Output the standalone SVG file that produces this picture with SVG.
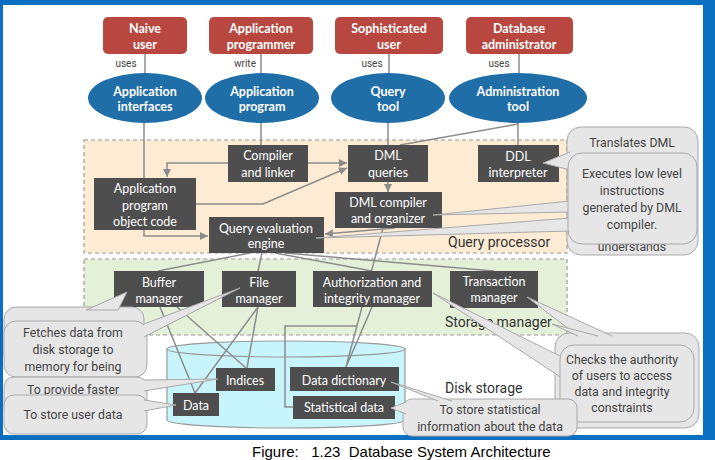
<svg xmlns="http://www.w3.org/2000/svg" width="715" height="460" viewBox="0 0 715 460">
<style>
.red{fill:#b7473f}
.ell{fill:#1f6ea8}
.dk{fill:#4e4e4e}
.wt{font-family:Lato,"Liberation Sans",sans-serif;font-size:12.5px;fill:#fff;text-anchor:middle}
.wb{font-family:Lato,"Liberation Sans",sans-serif;font-size:12.5px;font-weight:bold;fill:#fff;text-anchor:middle}
.sm{font-family:Roboto,"Liberation Sans",sans-serif;font-size:10px;fill:#444;text-anchor:middle}
.lbl{font-family:Roboto,"Liberation Sans",sans-serif;font-size:14px;fill:#333}
.ct{font-family:Roboto,"Liberation Sans",sans-serif;font-size:12.3px;fill:#444;text-anchor:middle}
.co{fill:#e6e6e6;stroke:#a9a9a9;stroke-width:1}
.ln{fill:none;stroke:#8c8c8c;stroke-width:1.5}
.dash{stroke:#9a9a9a;stroke-width:1.2;stroke-dasharray:4 3}
</style>
<defs>
<marker id="ah" viewBox="0 0 8 8" refX="8" refY="4" markerWidth="8" markerHeight="8" markerUnits="userSpaceOnUse" orient="auto">
<path d="M0,0 L8,4 L0,8 z" fill="#8c8c8c"/>
</marker>
</defs>
<rect x="0" y="0" width="715" height="440" fill="#0b6fc1"/>
<rect x="3" y="5" width="700" height="430" fill="#fff"/>
<rect x="0" y="440" width="715" height="20" fill="#fff"/>

<g id="query-processor">
<rect x="84" y="140" width="483" height="113" fill="#fdebd3" class="dash"/>
<text class="lbl" x="448" y="247">Query processor</text>
</g>
<g id="storage-manager">
<rect x="84" y="259" width="483" height="76" fill="#e5f0d9" class="dash"/>
<text class="lbl" x="445" y="327">Storage manager</text>
</g>
<g id="disk-storage">
<path d="M167,349 L167,420 A119,8 0 0 0 405,420 L405,349 Z" fill="#c8f4fc" stroke="#9a9a9a" stroke-width="1.2"/>
<ellipse cx="286" cy="349" rx="119" ry="8" fill="#c8f4fc" stroke="#9a9a9a" stroke-width="1.2"/>
<text class="lbl" x="445" y="393">Disk storage</text>
</g>

<g id="connectors">
<path class="ln" d="M145,54 V73 M261,54 V73 M389,54 V73 M519,54 V73"/>
<path class="ln" d="M144,123 V178 M261,123 V145 M388,123 V145 M518,123 V145 M518,124 L400,145"/>
<path class="ln" d="M228,163 H167 V177" marker-end="url(#ah)"/>
<path class="ln" d="M308,163 H347" marker-end="url(#ah)"/>
<path class="ln" d="M196,204 H263 L347,168" marker-end="url(#ah)"/>
<path class="ln" d="M144,230 V236 H208" marker-end="url(#ah)"/>
<path class="ln" d="M388,182 V192" marker-end="url(#ah)"/>
<path class="ln" d="M395,228 L325,234" marker-end="url(#ah)"/>
<path class="ln" d="M383,228 L346,367 M372,307 L346,367 M293,407 H285 V326 H357"/>
<path class="ln" d="M250,253 L158,271 M262,253 L258,271 M275,253 L372,271 M285,253 L494,271"/>
<path class="ln" d="M160,307 L195,393 M177,307 L246,368 M258,307 L195,393 M258,307 L247,368"/>
</g>

<g id="naive-user"><rect class="red" x="103" y="17" width="84" height="37" rx="5"/><text class="wb" x="145" y="33">Naive</text><text class="wb" x="145" y="49">user</text></g>
<g id="app-programmer"><rect class="red" x="209" y="17" width="104" height="37" rx="5"/><text class="wb" x="261" y="33">Application</text><text class="wb" x="261" y="49">programmer</text></g>
<g id="sophisticated-user"><rect class="red" x="335" y="17" width="108" height="37" rx="5"/><text class="wb" x="389" y="33">Sophisticated</text><text class="wb" x="389" y="49">user</text></g>
<g id="db-admin"><rect class="red" x="466" y="17" width="107" height="37" rx="5"/><text class="wb" x="519" y="33">Database</text><text class="wb" x="519" y="49">administrator</text></g>

<g id="edge-labels">
<text class="sm" x="126" y="67">uses</text>
<text class="sm" x="245" y="67">write</text>
<text class="sm" x="372" y="67">uses</text>
<text class="sm" x="499" y="67">uses</text>
</g>

<g id="app-interfaces"><ellipse class="ell" cx="145" cy="98" rx="57" ry="25"/><text class="wb" x="145" y="96">Application</text><text class="wb" x="145" y="111">interfaces</text></g>
<g id="app-program"><ellipse class="ell" cx="262" cy="98" rx="57" ry="25"/><text class="wb" x="262" y="96">Application</text><text class="wb" x="262" y="111">program</text></g>
<g id="query-tool"><ellipse class="ell" cx="388" cy="98" rx="57" ry="25"/><text class="wb" x="388" y="96">Query</text><text class="wb" x="388" y="111">tool</text></g>
<g id="admin-tool"><ellipse class="ell" cx="518" cy="98" rx="69" ry="25"/><text class="wb" x="518" y="96">Administration</text><text class="wb" x="518" y="111">tool</text></g>

<g id="compiler-linker"><rect class="dk" x="228" y="145" width="80" height="37"/><text class="wt" x="268" y="160">Compiler</text><text class="wt" x="268" y="177">and linker</text></g>
<g id="object-code"><rect class="dk" x="94" y="178" width="102" height="52"/><text class="wt" x="145" y="193">Application</text><text class="wt" x="145" y="210">program</text><text class="wt" x="145" y="226">object code</text></g>
<g id="query-eval"><rect class="dk" x="209" y="217" width="115" height="36"/><text class="wt" x="266" y="233">Query evaluation</text><text class="wt" x="266" y="248">engine</text></g>
<g id="dml-queries"><rect class="dk" x="348" y="145" width="80" height="37"/><text class="wt" x="388" y="160">DML</text><text class="wt" x="388" y="177">queries</text></g>
<g id="dml-compiler"><rect class="dk" x="335" y="192" width="107" height="36"/><text class="wt" x="388" y="207">DML compiler</text><text class="wt" x="388" y="223">and organizer</text></g>
<g id="ddl-interpreter"><rect class="dk" x="478" y="145" width="81" height="37"/><text class="wt" x="518" y="161">DDL</text><text class="wt" x="518" y="177">interpreter</text></g>

<g id="buffer-manager"><rect class="dk" x="114" y="271" width="90" height="36"/><text class="wt" x="159" y="287">Buffer</text><text class="wt" x="159" y="303">manager</text></g>
<g id="file-manager"><rect class="dk" x="222" y="271" width="74" height="36"/><text class="wt" x="259" y="287">File</text><text class="wt" x="259" y="303">manager</text></g>
<g id="auth-manager"><rect class="dk" x="313" y="271" width="119" height="36"/><text class="wt" x="372" y="287">Authorization and</text><text class="wt" x="372" y="303">integrity manager</text></g>
<g id="transaction-manager"><rect class="dk" x="450" y="271" width="88" height="37"/><text class="wt" x="494" y="286">Transaction</text><text class="wt" x="494" y="302">manager</text></g>

<g id="indices"><rect class="dk" x="216" y="368" width="59" height="23"/><text class="wt" x="245" y="385">Indices</text></g>
<g id="data"><rect class="dk" x="173" y="393" width="46" height="23"/><text class="wt" x="196" y="410">Data</text></g>
<g id="data-dictionary"><rect class="dk" x="290" y="367" width="109" height="24"/><text class="wt" x="344" y="385">Data dictionary</text></g>
<g id="statistical-data"><rect class="dk" x="293" y="396" width="102" height="23"/><text class="wt" x="344" y="412">Statistical data</text></g>

<g id="callouts">
<rect class="co" x="4" y="307" width="140" height="60" rx="12"/>
<path class="co" d="M86,310 L127,292 L118,310 Z"/>
<rect class="co" x="4" y="321" width="143" height="56" rx="12"/>
<path class="co" d="M144,324 L240,288 L144,337"/>
<text class="ct" x="73" y="337">Fetches data from</text>
<text class="ct" x="73" y="354">disk storage to</text>
<text class="ct" x="73" y="371">memory for being</text>
<rect class="co" x="4" y="377" width="143" height="40" rx="10"/>
<path class="co" d="M144,380 L218,379 L144,391"/>
<text class="ct" x="73" y="394">To provide faster</text>
<rect class="co" x="4" y="395" width="143" height="39" rx="10"/>
<path class="co" d="M144,400 L176,405 L144,411"/>
<text class="ct" x="73" y="419">To store user data</text>

<rect class="co" x="567" y="127" width="131" height="128" rx="14"/>
<text class="ct" x="632" y="147">Translates DML</text>
<text class="ct" x="632" y="251">understands</text>
<path class="co" d="M570,152 L543,163 L570,170"/>
<path class="co" d="M570,201 L433,215 L570,212"/>
<path class="co" d="M570,218 L316,238 L570,231"/>
<rect class="co" x="568" y="153" width="129" height="91" rx="14"/>
<text class="ct" x="632" y="178">Executes low level</text>
<text class="ct" x="632" y="195">instructions</text>
<text class="ct" x="632" y="212">generated by DML</text>
<text class="ct" x="632" y="229">compiler.</text>

<rect class="co" x="555" y="333" width="144" height="95" rx="14"/>
<path class="co" d="M578,336 L527,297 L612,336"/>
<path class="co" d="M578,336 L552,324 L598,336"/>
<path class="co" d="M562,357 L433,293 L562,378"/>
<rect class="co" x="560" y="345" width="134" height="77" rx="14"/>
<text class="ct" x="622" y="364">Checks the authority</text>
<text class="ct" x="622" y="380">of users to access</text>
<text class="ct" x="622" y="396">data and integrity</text>
<text class="ct" x="622" y="412">constraints</text>

<rect class="co" x="403" y="399" width="174" height="37" rx="9"/>
<path class="co" d="M406,402 L391,408 L406,414"/>
<path class="co" d="M438,401 L391,382 L452,401"/>
<text class="ct" x="490" y="414">To store statistical</text>
<text class="ct" x="490" y="431">information about the data</text>
</g>

<text x="252" y="457" xml:space="preserve" font-family="Liberation Sans, Arial, sans-serif" font-size="15" fill="#000">Figure:   1.23  Database System Architecture</text>
</svg>
